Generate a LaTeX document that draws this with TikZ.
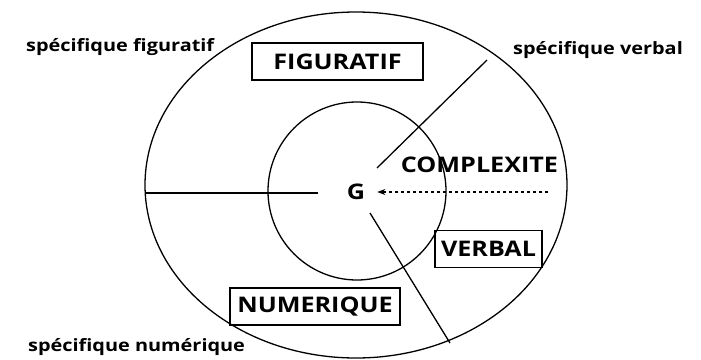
\documentclass[tikz,border=0pt]{standalone}
\usepackage{fontspec}
\setmainfont{Open Sans}[Ligatures=NoCommon, FakeStretch=1.17]
\usetikzlibrary{arrows.meta}
\begin{document}
\begin{tikzpicture}[x=1pt,y=-1pt,
  lbl/.style={font=\bfseries\fontsize{17}{19}\selectfont, inner sep=0pt},
  capsfont/.style={font=\bfseries\fontsize{21.5}{23}\selectfont},
  boxlbl/.style={draw, line width=1.3pt, capsfont, inner sep=0pt, minimum height=37pt},
  ln/.style={line width=1.3pt}]
\useasboundingbox (0,0) rectangle (701,359);
\draw[ln] (356,185) ellipse [x radius=211, y radius=173];
\draw[ln] (357,191) circle [radius=89];
\node[capsfont, inner xsep=12pt, inner ysep=1pt] (G) at (356,192) {G};
\coordinate (hl) at (145,193);
\coordinate (hr) at (318,193);
\draw[ln] (hl) -- (hr);
\coordinate (ds) at (548,192);
\draw[line width=1.1pt, dash pattern=on 3.5pt off 2.5pt, -{Stealth[length=8pt,width=6pt]}] (ds) -- (G.east);
\coordinate (v1) at (487,60);
\coordinate (v2) at (377,168);
\draw[ln] (v1) -- (v2);
\coordinate (n1) at (370,213);
\coordinate (n2) at (450,343);
\draw[ln] (n1) -- (n2);
\node[boxlbl, minimum width=171pt] (fig) at (337.5,61.5) {FIGURATIF};
\node[boxlbl, minimum width=107pt] (verb) at (488.5,249) {VERBAL};
\node[boxlbl, minimum width=170pt] (num) at (315,306.5) {NUMERIQUE};
\node[capsfont, inner sep=0pt] (cx) at (479.5,165) {COMPLEXITE};
\node[lbl, anchor=west] (sf) at (26,47) {spécifique figuratif};
\node[lbl, anchor=west] (sv) at (513,50) {spécifique verbal};
\node[lbl, anchor=west] (sn) at (28,347) {spécifique numérique};
\end{tikzpicture}
\end{document}
